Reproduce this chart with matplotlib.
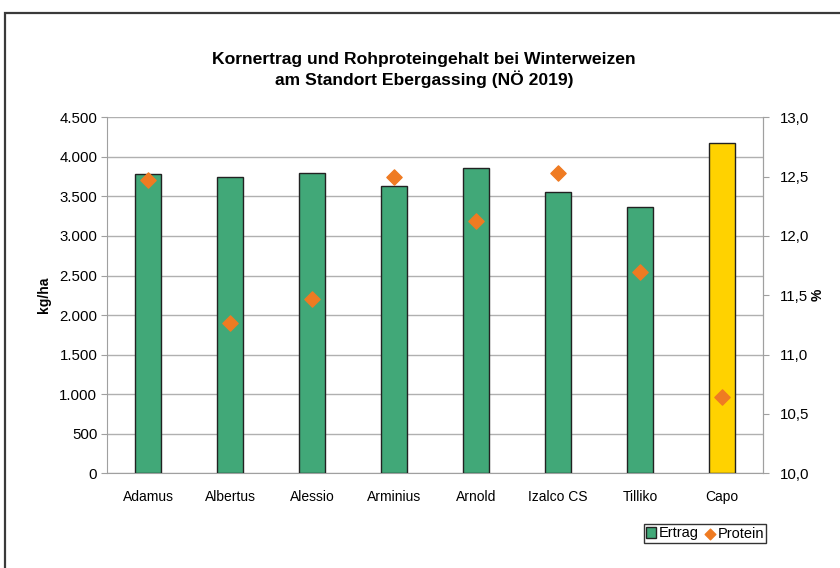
import matplotlib.pyplot as plt
import numpy as np
from matplotlib.patches import Rectangle
from matplotlib.ticker import FuncFormatter

plt.rcParams['font.family'] = ['Liberation Sans', 'DejaVu Sans']

sorten = ['Adamus', 'Albertus', 'Alessio', 'Arminius', 'Arnold', 'Izalco CS', 'Tilliko', 'Capo']
ertrag = [3785, 3742, 3800, 3632, 3860, 3556, 3367, 4180]
protein = [12.47, 11.27, 11.47, 12.50, 12.13, 12.53, 11.70, 10.64]
bar_colors = ['#41a878'] * 7 + ['#ffd200']

fig = plt.figure(figsize=(8.4, 5.68), dpi=100)
# outer frame (Excel chart area)
fig.patches.append(Rectangle((5 / 840, -0.05), 1.0, 1 - 13 / 568 + 0.05, transform=fig.transFigure,
                             fill=False, edgecolor='#3a3a3a', linewidth=1.6))

ax = fig.add_axes([107 / 840, 1 - 473.3 / 568, (763 - 107) / 840, (473.3 - 117.3) / 568])
x = np.arange(len(sorten))
ax.bar(x, ertrag, width=0.32, color=bar_colors, edgecolor='#222222', linewidth=1.0, zorder=3,
       label='Ertrag')
ax.set_xlim(-0.5, len(sorten) - 0.5)
ax.set_ylim(0, 4500)
ax.set_yticks(np.arange(0, 4501, 500))
ax.yaxis.set_major_formatter(FuncFormatter(lambda v, p: f'{int(v):,}'.replace(',', '.')))
ax.grid(axis='y', color='#b0b0b0', linewidth=1.0, zorder=0)
ax.set_xticks(x)
ax.set_xticklabels(sorten, fontsize=10)
ax.tick_params(axis='x', length=0, pad=12)
ax.tick_params(axis='y', labelsize=10.8, length=4, color='#a0a0a0', pad=3)
ax.spines['top'].set_visible(False)
for s in ['left', 'bottom', 'right']:
    ax.spines[s].set_color('#a0a0a0')
ax.set_ylabel('kg/ha', fontsize=10, fontweight='bold', labelpad=6)

ax2 = ax.twinx()
ax2.scatter(x, protein, marker='D', s=60, color='#ef7b22', zorder=4, label='Protein')
ax2.set_ylim(10, 13)
ax2.set_yticks(np.arange(10, 13.01, 0.5))
ax2.yaxis.set_major_formatter(FuncFormatter(lambda v, p: f'{v:.1f}'.replace('.', ',')))
ax2.tick_params(axis='y', labelsize=10.8, length=4, color='#a0a0a0', pad=8)
for s in ['top', 'left', 'bottom']:
    ax2.spines[s].set_visible(False)
ax2.spines['right'].set_color('#a0a0a0')
ax2.set_ylabel('%', fontsize=10, fontweight='bold', labelpad=1)

fig.text(0.505, 1 - 70 / 568, 'Kornertrag und Rohproteingehalt bei Winterweizen\nam Standort Ebergassing (NÖ 2019)',
         ha='center', va='center', fontsize=12.6, fontweight='bold', linespacing=1.2)

h1, l1 = ax.get_legend_handles_labels()
h2, l2 = ax2.get_legend_handles_labels()
leg = fig.legend(h1 + h2, l1 + l2, loc='center', bbox_to_anchor=(705 / 840, 1 - 533.5 / 568), ncol=2,
                 fontsize=10.5, frameon=True, fancybox=False, edgecolor='black', handlelength=0.7,
                 handletextpad=0.2, columnspacing=0.4, borderpad=0.15, borderaxespad=0,
                 markerscale=0.7)
leg.get_frame().set_linewidth(1.0)

fig.savefig('out.png', dpi=100)
